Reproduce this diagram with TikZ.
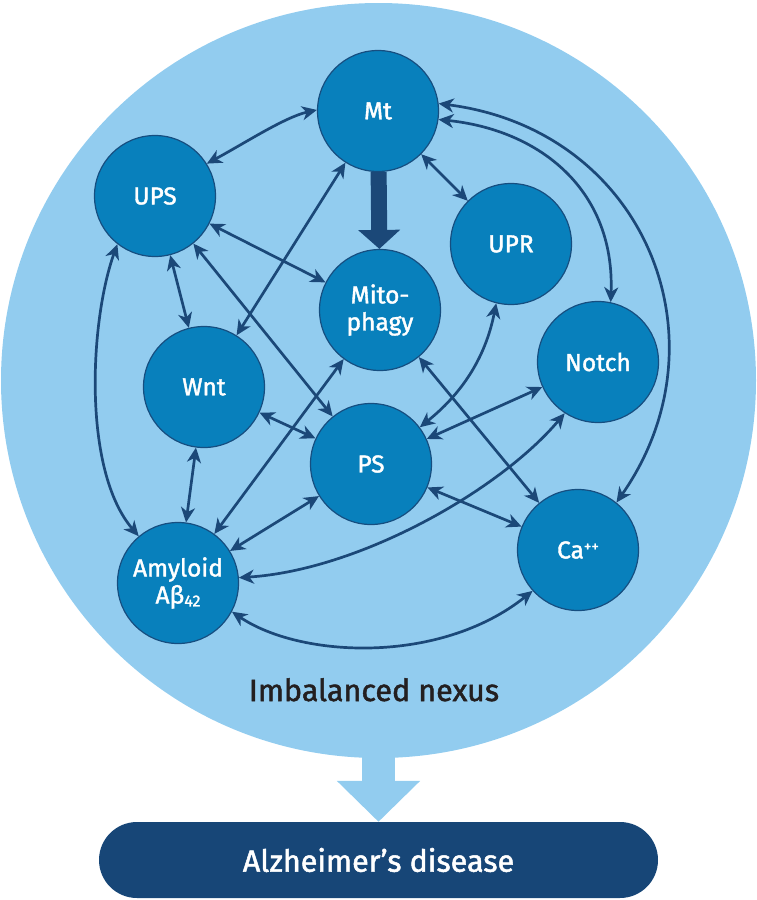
\documentclass[tikz,border=0pt]{standalone}
\usepackage{fontspec}
\setmainfont{Fira Sans}
\newfontfamily\lblfont{Fira Sans}[FakeBold=1.6]
\usetikzlibrary{arrows.meta}
\pgfdeclarelayer{back}
\pgfdeclarelayer{edges}
\pgfsetlayers{back,edges,main}
\definecolor{nexusblue}{RGB}{146,204,239}
\definecolor{nodeblue}{RGB}{8,128,188}
\definecolor{nodeborder}{RGB}{22,78,128}
\definecolor{arrowblue}{RGB}{27,72,120}
\definecolor{barblue}{RGB}{23,70,119}
\definecolor{textdark}{RGB}{35,31,32}
\begin{document}
\begin{tikzpicture}[x=1pt,y=-1pt,
  factor/.style={circle, fill=nodeblue, draw=nodeborder, line width=1.2pt,
    minimum size=121pt, inner sep=0pt, text=white,
    font=\lblfont\fontsize{24.5}{27}\selectfont, align=center},
  link/.style={draw=arrowblue, line width=2.7pt,
    {Stealth[length=15pt,width=14pt,inset=4.5pt]}-{Stealth[length=15pt,width=14pt,inset=4.5pt]}},
  thickarrow/.style={draw=arrowblue, line width=16pt,
    -{Triangle[length=19pt,width=41pt]}},
  bigarrow/.style={draw=nexusblue, line width=33pt,
    -{Triangle[length=41pt,width=81pt]}},
  nexusstyle/.style={circle, fill=nexusblue, minimum size=755pt, inner sep=0pt},
  adbar/.style={rectangle, rounded corners=38pt, fill=barblue, minimum width=559pt,
    minimum height=76pt, text=white, font=\lblfont\fontsize{30.5}{30}\selectfont},
  caption/.style={text=textdark, font=\lblfont\fontsize{30.5}{30}\selectfont, anchor=base}
]
\useasboundingbox (0,0) rectangle (757,900);

\begin{pgfonlayer}{back}
\node[nexusstyle] (nexus) at (378.5,380.5) {};
\node[adbar] (ad) at (378.5,860) {Alzheimer’s disease};
\draw[bigarrow] ([yshift=5pt]nexus.south) -- (ad.north);
\end{pgfonlayer}

\node[caption] (lbl) at (374,701) {Imbalanced nexus};

\node[factor] (mt) at (378,111) {Mt};
\node[factor] (ups) at (155,196) {UPS};
\node[factor] (upr) at (511,244) {UPR};
\node[factor] (mito) at (380,310) {Mito-\\phagy};
\node[factor] (notch) at (598,362) {Notch};
\node[factor] (wnt) at (204,387) {Wnt};
\node[factor] (ps) at (371,464) {PS};
\node[factor] (ca) at (578,550) {Ca\raisebox{7pt}{\fontsize{15}{15}\selectfont ++}};
\node[factor] (amy) at (178,583) {Amyloid\\Aβ\raisebox{-3pt}{\fontsize{16}{16}\selectfont 42}};

\begin{pgfonlayer}{edges}
\draw[link] (ups.32) .. controls (245,143) and (285,117) .. (mt.179);
\draw[link] (mt) -- (upr);
\draw[link] (mt.-8) .. controls (540,130) and (615,190) .. (notch.78);
\draw[link] (mt.7) .. controls (645,130) and (730,340) .. (ca.51);
\draw[link] (ups) -- (mito);
\draw[link] (ups) -- (wnt);
\draw[link] (ups) -- (ps);
\draw[link] (mt) -- (wnt);
\draw[link] (ups.232) .. controls (90,320) and (82,470) .. (amy.130);
\draw[link] (wnt) -- (amy);
\draw[link] (wnt) -- (ps);
\draw[link] (mito) -- (amy);
\draw[link] (ps) -- (amy);
\draw[link] (upr.256) .. controls (485,360) and (460,395) .. (ps.37);
\draw[link] (notch) -- (ps);
\draw[link] (notch.237) .. controls (500,490) and (360,570) .. (amy.5);
\draw[link] (mito) -- (ca);
\draw[link] (ps) -- (ca);
\draw[link] (amy.-28) .. controls (300,658) and (440,665) .. (ca.222);
\draw[thickarrow] (mt) -- (mito);
\end{pgfonlayer}
\end{tikzpicture}
\end{document}
